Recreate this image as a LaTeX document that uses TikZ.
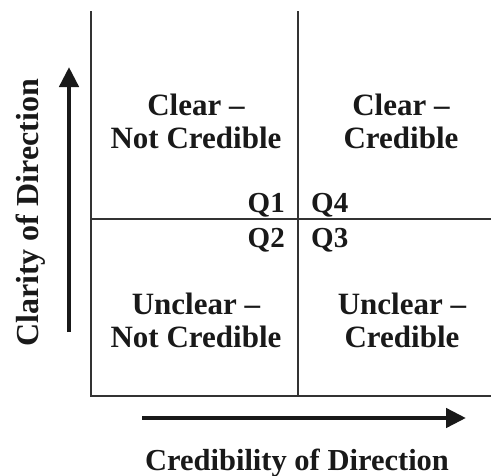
\documentclass[tikz,border=0pt]{standalone}
\usepackage{fontspec}
\setmainfont{Liberation Serif}
\usetikzlibrary{arrows.meta}
\begin{document}
\begin{tikzpicture}[x=1pt,y=-1pt,
  gridline/.style={draw=black!80, line width=1.4pt},
  axisarrow/.style={draw=black!90, line width=4.5pt, -{Triangle[length=20pt,width=19pt]}},
  quad/.style={font=\bfseries\fontsize{31}{33}\selectfont, align=center, inner sep=0pt, anchor=north, text=black!90},
  qlab/.style={font=\bfseries\fontsize{29}{33}\selectfont, inner sep=0pt, text=black!90},
  axlabel/.style={font=\bfseries\fontsize{30.5}{34}\selectfont, inner sep=0pt, anchor=base, text=black!90}]
\useasboundingbox (0,0) rectangle (491,475);
% grid
\coordinate (tl) at (91,11);
\coordinate (bl) at (91,396);
\coordinate (tm) at (298,11);
\coordinate (bm) at (298,396);
\coordinate (ml) at (91,219);
\coordinate (mr) at (491,219);
\coordinate (br) at (491,396);
\draw[gridline] (tl) -- (bl) -- (br);
\draw[gridline] (tm) -- (bm);
\draw[gridline] (ml) -- (mr);
% axes
\coordinate (ya0) at (69,332);
\coordinate (ya1) at (69,67);
\draw[axisarrow] (ya0) -- (ya1);
\coordinate (xa0) at (142,418);
\coordinate (xa1) at (466,418);
\draw[axisarrow] (xa0) -- (xa1);
% quadrant texts
\node[quad] (q1t) at (196,94) {Clear –\\Not Credible};
\node[quad] (q4t) at (401,94) {Clear –\\Credible};
\node[quad] (q2t) at (196,293) {Unclear –\\Not Credible};
\node[quad] (q3t) at (402,293) {Unclear –\\Credible};
% quadrant labels
\node[qlab, anchor=base east] (q1) at (285,212) {Q1};
\node[qlab, anchor=base east] (q2) at (285,247) {Q2};
\node[qlab, anchor=base west] (q4) at (311,212) {Q4};
\node[qlab, anchor=base west] (q3) at (311,247) {Q3};
% axis labels
\node[axlabel] (xl) at (297,470) {Credibility of Direction};
\node[axlabel, font=\bfseries\fontsize{32}{34}\selectfont, rotate=90] (yl) at (38,213) {Clarity of Direction};
\end{tikzpicture}
\end{document}
